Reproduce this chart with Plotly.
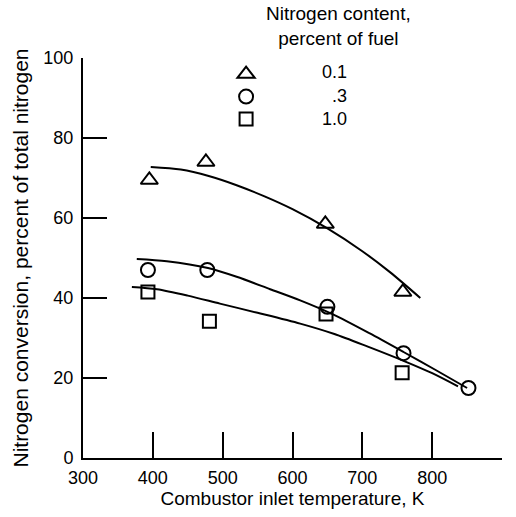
import plotly.graph_objects as go

# measured data points
tri_x = [395, 476, 647, 758]
tri_y = [69.5, 74.0, 58.5, 41.5]
cir_x = [393, 478, 650, 759, 852]
cir_y = [47.0, 47.0, 37.8, 26.2, 17.5]
sq_x = [393, 481, 648, 757]
sq_y = [41.5, 34.2, 36.0, 21.3]

# hand-faired curves
fit_tri_x = [397, 440, 480, 520, 560, 600, 650, 700, 740, 783]
fit_tri_y = [72.75, 72.1, 70.5, 68.2, 65.4, 62.2, 57.4, 51.7, 46.4, 40.0]
fit_cir_x = [377, 420, 479, 520, 568, 611, 658, 710, 759, 805, 850]
fit_cir_y = [49.75, 49.2, 47.5, 45.3, 42.2, 39.4, 35.9, 31.2, 26.5, 22.0, 17.5]
fit_sq_x = [370, 406, 450, 496, 550, 611, 660, 707, 759, 800, 837]
fit_sq_y = [42.75, 42.2, 40.6, 38.6, 36.3, 33.6, 31.0, 27.9, 24.3, 21.2, 17.9]

x_ticks = [300, 400, 500, 600, 700, 800, 900]
y_ticks = [0, 20, 40, 60, 80, 100]
legend_labels = ["0.1", ".3", "1.0"]

FONT = "Liberation Sans, Arial, sans-serif"

fig = go.Figure()
for fx, fy in [(fit_tri_x, fit_tri_y), (fit_cir_x, fit_cir_y), (fit_sq_x, fit_sq_y)]:
    fig.add_trace(go.Scatter(x=fx, y=fy, mode="lines",
                             line=dict(color="black", width=2, shape="spline", smoothing=0.8),
                             showlegend=False, hoverinfo="skip"))

markers = [
    (tri_x, tri_y, "triangle-up-open", 15),
    (cir_x, cir_y, "circle-open", 14),
    (sq_x, sq_y, "square-open", 13),
]
for (mx, my, sym, sz) in markers:
    fig.add_trace(go.Scatter(x=mx, y=my, mode="markers", name="",
                             marker=dict(symbol=sym, size=sz, color="black",
                                         line=dict(color="black", width=2)),
                             showlegend=True))

fig.update_layout(
    width=516, height=517, autosize=False,
    margin=dict(l=83, r=14, t=58, b=59),
    paper_bgcolor="white", plot_bgcolor="white",
    font=dict(family=FONT, color="black", size=18),
    showlegend=True,
    legend=dict(x=0.3415, y=1.0005, xanchor="left", yanchor="top",
                bgcolor="rgba(0,0,0,0)", font=dict(size=15),
                itemsizing="trace", tracegroupgap=0),
    xaxis=dict(range=[300, 900], tickvals=x_ticks, ticks="inside", ticklen=26,
               tickwidth=2, tickcolor="black", showline=True, linewidth=2,
               linecolor="black", showgrid=False, zeroline=False,
               tickfont=dict(size=18), ticklabelstandoff=2,
               title=dict(text="Combustor inlet temperature, K",
                          font=dict(size=19), standoff=4)),
    yaxis=dict(range=[0, 100], tickvals=y_ticks, ticks="inside", ticklen=24,
               tickwidth=1.5, tickcolor="black", showline=True, linewidth=2,
               linecolor="black", showgrid=False, zeroline=False,
               tickfont=dict(size=18), ticklabelstandoff=4,
               title=dict(text="Nitrogen conversion, percent of total nitrogen",
                          font=dict(size=21), standoff=9)),
)

fig.add_annotation(text="Nitrogen content,<br>percent of fuel", xref="paper", yref="paper",
                   x=0.609, y=1.079, xanchor="center", yanchor="middle",
                   showarrow=False, font=dict(size=19))
label_y = [0.965, 0.905, 0.8475]
for lab, ly in zip(legend_labels, label_y):
    fig.add_annotation(text=lab, xref="paper", yref="paper", x=0.635, y=ly,
                       xanchor="right", yanchor="middle", showarrow=False,
                       font=dict(size=18))

fig.write_html("out.html")
